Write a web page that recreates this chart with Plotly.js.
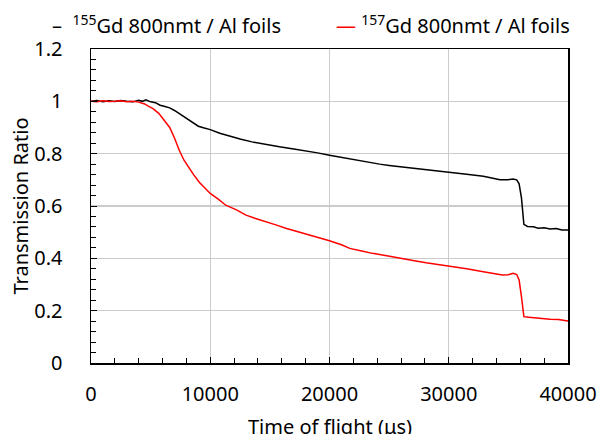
<!DOCTYPE html>
<html>
<head>
<meta charset="utf-8">
<script src="https://cdn.plot.ly/plotly-3.0.1.min.js"></script>
<style>html,body{margin:0;padding:0;background:#fff;}#chart{width:598px;height:434px;}</style>
</head>
<body>
<div id="chart"></div>
<script>
// Time of flight (µs) and transmission ratio
const gd155X = [0,500,1000,1500,2000,2500,3000,3500,4000,4300,4600,5000,5400,5800,6200,6600,7000,7400,7800,8200,8600,9000,9500,10000,10800,11600,12500,13500,14500,15800,17000,18000,19000,20000,21000,21700,23000,24200,25000,25900,27000,28700,30000,31500,32900,33600,34300,34900,35400,35700,35900,36100,36300,36600,37100,37500,38000,38500,39000,39500,40000];
const gd155Y = [1.0,1.003,0.998,1.002,0.999,1.003,1.0,0.998,1.004,1.0,1.006,0.998,0.995,0.985,0.98,0.975,0.965,0.953,0.94,0.928,0.915,0.905,0.898,0.892,0.878,0.867,0.856,0.845,0.836,0.826,0.818,0.811,0.803,0.794,0.786,0.778,0.770,0.760,0.755,0.750,0.745,0.737,0.728,0.721,0.714,0.708,0.700,0.700,0.703,0.700,0.685,0.630,0.530,0.522,0.521,0.515,0.517,0.512,0.514,0.508,0.508];

const gd157X = [0,500,1000,1500,2000,2500,3000,3500,4000,4500,4800,5200,5700,6100,6600,7000,7400,7800,8200,8600,9100,9500,10000,10700,11300,12200,13000,13800,14700,15500,16400,17500,18500,20000,21000,21700,22700,23600,24800,25900,27000,28100,30000,31500,32900,33800,34500,35000,35400,35700,35900,36100,36300,36700,37100,37800,38500,39200,40000];
const gd157Y = [1.0,0.998,1.002,0.999,1.0,1.002,0.998,1.0,0.997,0.99,0.982,0.972,0.953,0.93,0.9,0.86,0.813,0.775,0.745,0.72,0.69,0.67,0.648,0.625,0.603,0.585,0.565,0.552,0.540,0.528,0.514,0.500,0.487,0.467,0.452,0.438,0.428,0.419,0.410,0.400,0.392,0.383,0.371,0.360,0.349,0.342,0.336,0.337,0.343,0.338,0.317,0.253,0.177,0.175,0.173,0.170,0.167,0.166,0.160];

const seriesNames = ["<sup>155</sup>Gd 800nmt / Al foils", "<sup>157</sup>Gd 800nmt / Al foils"];
const seriesColors = ["#000000", "#ff0000"];
const xTickVals = [0,10000,20000,30000,40000];
const yTickVals = [0,0.2,0.4,0.6,0.8,1,1.2];
const xTitle = 'Time of flight (μs)';
const yTitle = 'Transmission Ratio';

const FONT = "'Noto Sans', 'Open Sans', sans-serif";
const NB = "\u00a0";

const traces = [
  {x: gd155X, y: gd155Y, type: 'scatter', mode: 'lines', name: seriesNames[0],
   line: {color: seriesColors[0], width: 1.5}, showlegend: false},
  {x: gd157X, y: gd157Y, type: 'scatter', mode: 'lines', name: seriesNames[1],
   line: {color: seriesColors[1], width: 1.5}, showlegend: false}
];

const layout = {
  width: 598, height: 434,
  margin: {l: 91, r: 30, t: 49, b: 71},
  paper_bgcolor: '#ffffff', plot_bgcolor: '#ffffff',
  font: {family: FONT, size: 20, color: '#000'},
  xaxis: {
    range: [0, 40000], tickvals: xTickVals, tickformat: 'd',
    showgrid: true, gridcolor: '#cccccc', gridwidth: 1.2,
    zeroline: false, showline: true, linecolor: '#000', linewidth: 1.5, mirror: true,
    ticks: 'inside', ticklen: 6, tickcolor: '#000', tickwidth: 1,
    minor: {dtick: 2000, ticks: 'inside', ticklen: 5, tickcolor: '#000', tickwidth: 1, showgrid: false},
    tickfont: {family: FONT, size: 20}, ticklabelstandoff: 12
  },
  yaxis: {
    range: [0, 1.2], tickvals: yTickVals,
    showgrid: true, gridcolor: '#cccccc', gridwidth: 1.2,
    zeroline: false, showline: true, linecolor: '#000', linewidth: 1.5, mirror: true,
    ticks: 'inside', ticklen: 6, tickcolor: '#000', tickwidth: 1,
    minor: {dtick: 0.04, ticks: 'inside', ticklen: 5, tickcolor: '#000', tickwidth: 1, showgrid: false},
    tickfont: {family: FONT, size: 20}, ticklabelstandoff: 23,
    title: {text: yTitle, font: {family: FONT, size: 20}, standoff: 0}
  },
  annotations: [
    {xref: 'paper', yref: 'paper', x: -0.086, y: 1.077, xanchor: 'left', yanchor: 'middle',
     showarrow: false, font: {family: FONT, size: 20, color: '#000'},
     text: "<span style='color:" + seriesColors[0] + "'>–</span>" + NB + NB + seriesNames[0]},
    {xref: 'paper', yref: 'paper', x: 0.509, y: 1.077, xanchor: 'left', yanchor: 'middle',
     showarrow: false, font: {family: FONT, size: 20, color: '#000'},
     text: "<span style='color:" + seriesColors[1] + "'>—</span>" + NB + seriesNames[1]},
    {xref: 'paper', yref: 'paper', x: 0.5, y: -0.203, xanchor: 'center', yanchor: 'middle',
     showarrow: false, font: {family: FONT, size: 20, color: '#000'}, text: xTitle}
  ]
};

Plotly.newPlot('chart', traces, layout, {displayModeBar: false, staticPlot: true});
</script>
</body>
</html>
